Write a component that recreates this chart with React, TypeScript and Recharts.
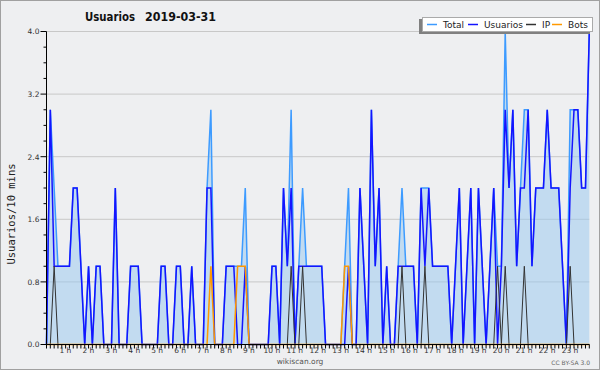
import React from 'react';
import { ComposedChart, Area, Line, XAxis, YAxis, CartesianGrid } from 'recharts';

// ---------- DATA ----------
const usuarios = [
  0, 3, 1, 1, 1, 1, 1, 2, 2, 1,
  0, 1, 0, 1, 1, 0, 0, 0, 2, 0,
  0, 0, 1, 1, 1, 0, 0, 0, 0, 0,
  1, 1, 0, 0, 1, 1, 0, 0, 1, 0,
  0, 0, 2, 2, 0, 0, 0, 1, 1, 1,
  0, 0, 1, 0, 0, 0, 0, 0, 0, 1,
  1, 0, 2, 1, 2, 0, 1, 1, 1, 1,
  1, 1, 1, 0, 0, 0, 0, 0, 0, 1,
  0, 0, 2, 1, 0, 3, 1, 2, 0, 1,
  0, 0, 1, 1, 1, 1, 1, 0, 2, 1,
  2, 1, 1, 1, 1, 1, 0, 1, 2, 0,
  1, 2, 0, 2, 1, 0, 1, 2, 0, 1,
  3, 2, 3, 1, 2, 2, 3, 1, 2, 2,
  2, 3, 2, 2, 2, 1, 0, 2, 3, 3,
  2, 2, 4,
];

const ip = [
  0, 0, 1, 0, 0, 0, 0, 0, 0, 0,
  0, 0, 0, 0, 0, 0, 0, 0, 0, 0,
  0, 0, 0, 0, 0, 0, 0, 0, 0, 0,
  0, 0, 0, 0, 0, 0, 0, 0, 0, 0,
  0, 0, 0, 0, 0, 0, 0, 0, 0, 0,
  0, 0, 0, 0, 0, 0, 0, 0, 0, 0,
  0, 0, 0, 0, 1, 0, 0, 1, 0, 0,
  0, 0, 0, 0, 0, 0, 0, 0, 0, 0,
  0, 0, 0, 0, 0, 0, 0, 0, 0, 0,
  0, 0, 0, 1, 0, 0, 0, 0, 0, 1,
  0, 0, 0, 0, 0, 0, 0, 0, 0, 0,
  0, 0, 0, 0, 0, 0, 0, 0, 1, 0,
  1, 0, 0, 0, 0, 1, 0, 0, 0, 0,
  0, 0, 0, 0, 0, 0, 0, 1, 0, 0,
  0, 0, 0,
];

const bots = [
  0, 0, 0, 0, 0, 0, 0, 0, 0, 0,
  0, 0, 0, 0, 0, 0, 0, 0, 0, 0,
  0, 0, 0, 0, 0, 0, 0, 0, 0, 0,
  0, 0, 0, 0, 0, 0, 0, 0, 0, 0,
  0, 0, 0, 1, 0, 0, 0, 0, 0, 0,
  1, 1, 1, 0, 0, 0, 0, 0, 0, 0,
  0, 0, 0, 0, 0, 0, 0, 0, 0, 0,
  0, 0, 0, 0, 0, 0, 0, 0, 1, 1,
  0, 0, 0, 0, 0, 0, 0, 0, 0, 0,
  0, 0, 0, 0, 0, 0, 0, 0, 0, 0,
  0, 0, 0, 0, 0, 0, 0, 0, 0, 0,
  0, 0, 0, 0, 0, 0, 0, 0, 0, 0,
  0, 0, 0, 0, 0, 0, 0, 0, 0, 0,
  0, 0, 0, 0, 0, 0, 0, 0, 0, 0,
  0, 0, 0,
];

const total = [
  0, 3, 2, 1, 1, 1, 1, 2, 2, 1,
  0, 1, 0, 1, 1, 0, 0, 0, 2, 0,
  0, 0, 1, 1, 1, 0, 0, 0, 0, 0,
  1, 1, 0, 0, 1, 1, 0, 0, 1, 0,
  0, 0, 2, 3, 0, 0, 0, 1, 1, 1,
  1, 1, 2, 0, 0, 0, 0, 0, 0, 1,
  1, 0, 2, 1, 3, 0, 1, 2, 1, 1,
  1, 1, 1, 0, 0, 0, 0, 0, 1, 2,
  0, 0, 2, 1, 0, 3, 1, 2, 0, 1,
  0, 0, 1, 2, 1, 1, 1, 0, 2, 2,
  2, 1, 1, 1, 1, 1, 0, 1, 2, 0,
  1, 2, 0, 2, 1, 0, 1, 2, 1, 1,
  4, 2, 3, 1, 2, 3, 3, 1, 2, 2,
  2, 3, 2, 2, 2, 1, 0, 3, 3, 3,
  2, 2, 4,
];

const hourLabels = [
  '1 h', '2 h', '3 h', '4 h', '5 h', '6 h', '7 h', '8 h', '9 h', '10 h', '11 h', '12 h',
  '13 h', '14 h', '15 h', '16 h', '17 h', '18 h', '19 h', '20 h', '21 h', '22 h', '23 h',
];

const yTicks = [0, 0.2, 0.4, 0.6, 0.8, 1.0, 1.2, 1.4, 1.6, 1.8, 2.0, 2.2, 2.4, 2.6, 2.8, 3.0, 3.2, 3.4, 3.6, 3.8, 4.0];
const yLabels = ['0.0', '0.8', '1.6', '2.4', '3.2', '4.0'];
const gridValues = [0.8, 1.6, 2.4, 3.2, 4.0];

const seriesNames = ['Total', 'Usuarios', 'IP', 'Bots'];
const chartTitle = 'Usuarios';
const chartDate = '2019-03-31';
const yAxisTitle = 'Usuarios/10 mins';
const footerSite = 'wikiscan.org';
const footerLicense = 'CC BY-SA 3.0';

const slots = usuarios.map((_, i) => i);
const data = slots.map((t, i) => ({
  t,
  total: total[i],
  usuarios: usuarios[i],
  ip: ip[i],
  bots: bots[i],
}));

// ---------- STYLE / LAYOUT ----------
const W = 600;
const H = 370;
const PLOT_LEFT = 46.5;
const PLOT_TOP = 31.5;
const PLOT_RIGHT = 589.3;
const PLOT_BOTTOM = 344.5;
const Y_AXIS_W = 40;
const X_AXIS_H = 20;
const BG = '#eeeff1';
const C_TOTAL = '#3d9bff';
const C_USU = '#1414ff';
const C_IP = '#333333';
const C_BOTS = '#ff9900';
const colors = [C_TOTAL, C_USU, C_IP, C_BOTS];
const FONT = 'DejaVu Sans, Verdana, sans-serif';

const XTick = (props: any) => {
  const { x, payload } = props;
  const v = payload.value as number;
  const label = v % 6 === 0 && v > 0 ? hourLabels[v / 6 - 1] : null;
  return (
    <g>
      <line x1={x} x2={x} y1={PLOT_BOTTOM} y2={PLOT_BOTTOM + 4} stroke="#000" strokeWidth={1} />
      {label && (
        <text x={x - 4} y={353} textAnchor="middle" fontSize={7.5} fontFamily={FONT} fill="#333">
          {label}
        </text>
      )}
    </g>
  );
};

const YTick = (props: any) => {
  const { y, payload } = props;
  const v = payload.value as number;
  const k = Math.round(v * 5);
  const major = k % 4 === 0;
  return (
    <g>
      <line x1={PLOT_LEFT - (major ? 6 : 3)} x2={PLOT_LEFT} y1={y} y2={y} stroke="#000" strokeWidth={1} />
      {major && (
        <text x={39.5} y={y} dy={2.8} textAnchor="end" fontSize={7.5} fontFamily={FONT} fill="#333">
          {yLabels[k / 4]}
        </text>
      )}
    </g>
  );
};

export default function App() {
  const legendX = [427, 468, 526, 552];
  const legendTextX = [443, 484, 542, 568];
  return (
    <div style={{ position: 'absolute', left: 0, top: 0, width: W, height: H, background: BG }}>
      <ComposedChart
        width={W}
        height={H}
        data={data}
        margin={{
          top: PLOT_TOP,
          right: W - PLOT_RIGHT,
          bottom: H - PLOT_BOTTOM - X_AXIS_H,
          left: PLOT_LEFT - Y_AXIS_W,
        }}
      >
        <CartesianGrid vertical={false} horizontalValues={gridValues} stroke="#c8c8c8" strokeWidth={1} />
        <XAxis
          dataKey="t"
          type="number"
          domain={[0, slots.length - 1]}
          ticks={slots}
          interval={0}
          height={X_AXIS_H}
          tickLine={false}
          axisLine={{ stroke: '#000', strokeWidth: 1 }}
          tick={<XTick />}
        />
        <YAxis
          type="number"
          domain={[0, 4]}
          ticks={yTicks}
          interval={0}
          width={Y_AXIS_W}
          tickLine={false}
          axisLine={{ stroke: '#000', strokeWidth: 1 }}
          tick={<YTick />}
        />
        <Area
          type="linear"
          dataKey="total"
          stroke={C_TOTAL}
          strokeWidth={1.5}
          fill="#96c8f0"
          fillOpacity={0.5}
          dot={false}
          activeDot={false}
          isAnimationActive={false}
        />
        <Line type="linear" dataKey="usuarios" stroke={C_USU} strokeWidth={1.5} dot={false} activeDot={false} isAnimationActive={false} />
        <Line type="linear" dataKey="ip" stroke={C_IP} strokeWidth={1} dot={false} activeDot={false} isAnimationActive={false} />
        <Line type="linear" dataKey="bots" stroke={C_BOTS} strokeWidth={1.5} dot={false} activeDot={false} isAnimationActive={false} />
      </ComposedChart>
      <svg
        width={W}
        height={H}
        style={{ position: 'absolute', left: 0, top: 0, pointerEvents: 'none' }}
      >
        <rect x={0.5} y={0.5} width={W - 1} height={H - 1} fill="none" stroke="#a0a0a0" />
        <text x={85} y={21} fontSize={11.5} fontWeight="bold" fontFamily={FONT} fill="#111" textLength={50} lengthAdjust="spacingAndGlyphs">{chartTitle}</text>
        <text x={145} y={21} fontSize={11.5} fontWeight="bold" fontFamily={FONT} fill="#111" textLength={71} lengthAdjust="spacingAndGlyphs">{chartDate}</text>
        <text
          x={15}
          y={214}
          transform="rotate(-90 15 214)"
          textAnchor="middle"
          fontSize={10.5}
          fontFamily="DejaVu Sans Mono, monospace"
          fill="#222"
        >
          {yAxisTitle}
        </text>
        <text x={300} y={364} textAnchor="middle" fontSize={7.5} fontFamily={FONT} fill="#555">{footerSite}</text>
        <text x={590} y={365} textAnchor="end" fontSize={6} fontFamily={FONT} fill="#666">{footerLicense}</text>
        {/* legend */}
        <rect x={419} y={19} width={171} height={15} fill="#808080" />
        <rect x={422.5} y={17.5} width={170} height={14} fill="#ffffff" stroke="#aaaaaa" />
        {seriesNames.map((name, i) => (
          <g key={name}>
            <line x1={legendX[i]} x2={legendX[i] + 10} y1={24.5} y2={24.5} stroke={colors[i]} strokeWidth={1.5} />
            <text x={legendTextX[i]} y={28} fontSize={9} fontFamily={FONT} fill="#222">{name}</text>
          </g>
        ))}
      </svg>
    </div>
  );
}
